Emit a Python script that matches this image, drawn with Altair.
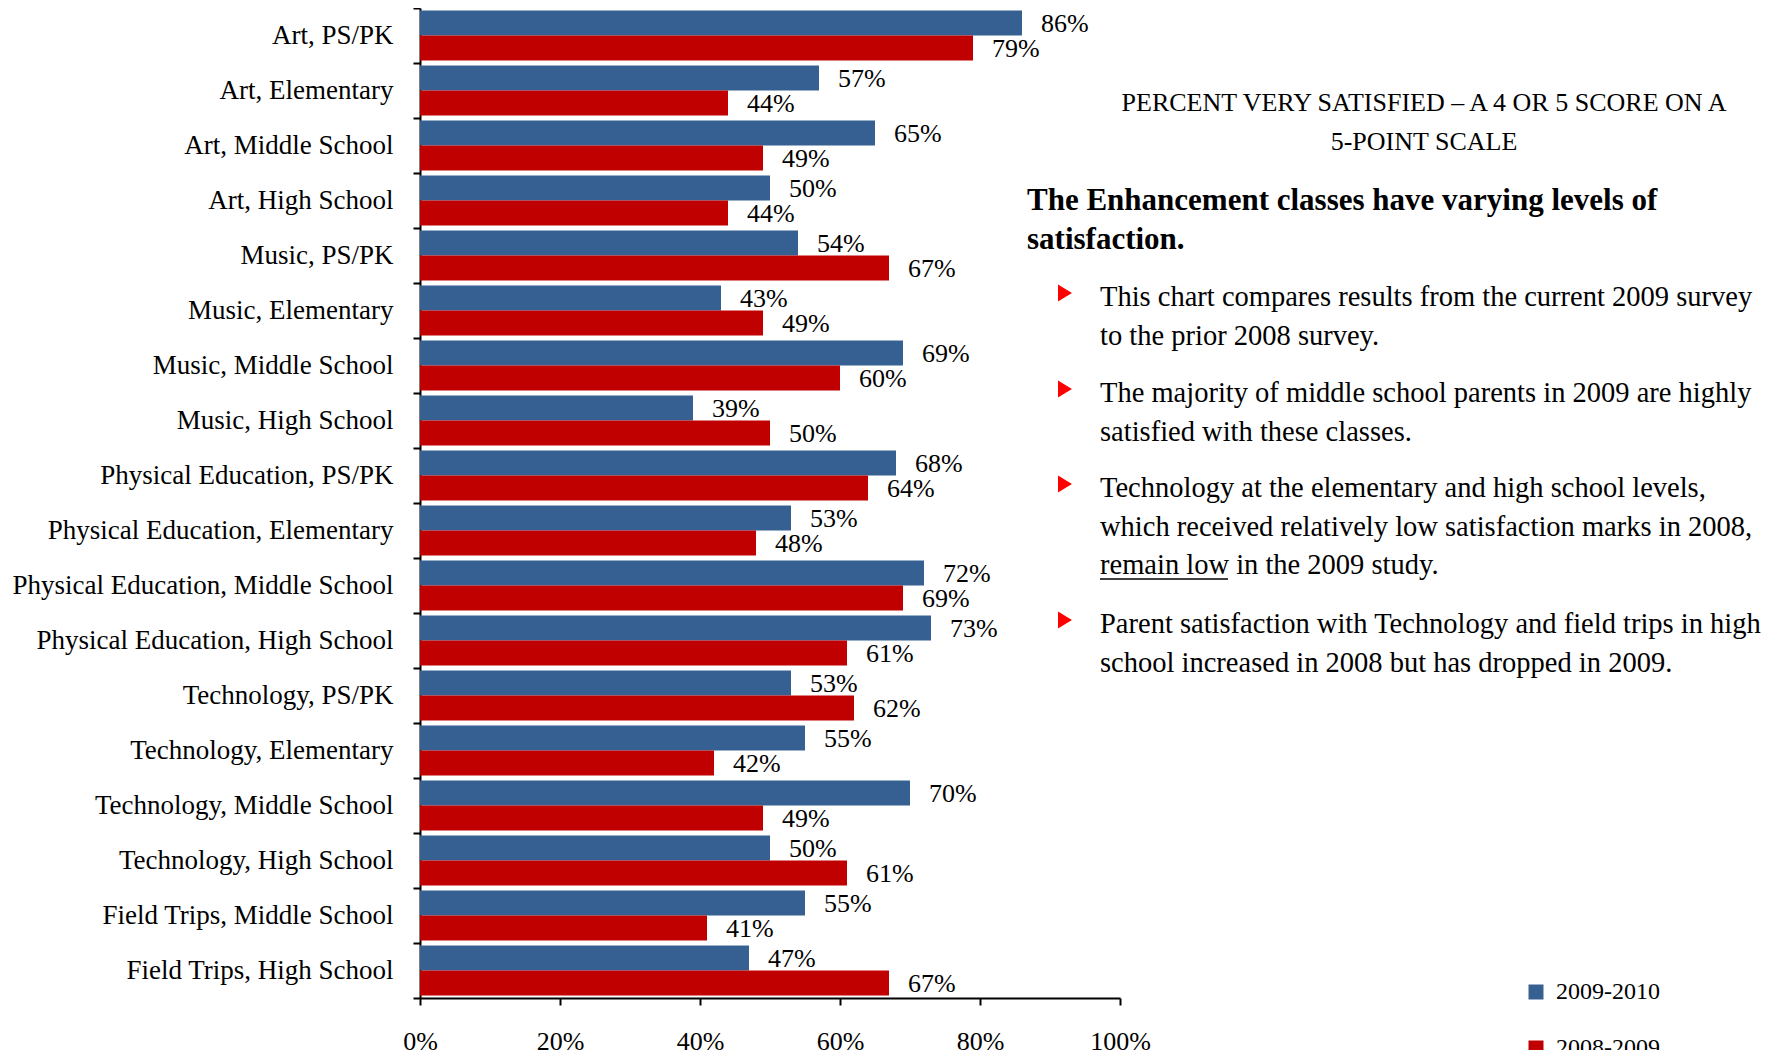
import altair as alt
import pandas as pd

categories = [
    "Art, PS/PK", "Art, Elementary", "Art, Middle School", "Art, High School",
    "Music, PS/PK", "Music, Elementary", "Music, Middle School", "Music, High School",
    "Physical Education, PS/PK", "Physical Education, Elementary",
    "Physical Education, Middle School", "Physical Education, High School",
    "Technology, PS/PK", "Technology, Elementary", "Technology, Middle School",
    "Technology, High School", "Field Trips, Middle School", "Field Trips, High School",
]
values_2009_2010 = [86, 57, 65, 50, 54, 43, 69, 39, 68, 53, 72, 73, 53, 55, 70, 50, 55, 47]
values_2008_2009 = [79, 44, 49, 44, 67, 49, 60, 50, 64, 48, 69, 61, 62, 42, 49, 61, 41, 67]
series = ["2009-2010", "2008-2009"]
colors = ["#376092", "#C00000"]
x_ticks = [0, 0.2, 0.4, 0.6, 0.8, 1.0]

title_lines = ["PERCENT VERY SATISFIED \u2013 A 4 OR 5 SCORE ON A", "5-POINT SCALE"]
heading_lines = ["The Enhancement classes have varying levels of", "satisfaction."]
bullets = [
    ["This chart compares results from the current 2009 survey", "to the prior 2008 survey."],
    ["The majority of middle school parents in 2009 are highly", "satisfied with these classes."],
    ["Technology at the elementary and high school levels,",
     "which received relatively low satisfaction marks in 2008,",
     "remain low in the 2009 study."],
    ["Parent satisfaction with Technology and field trips in high",
     "school increased in 2008 but has dropped in 2009."],
]

rows = []
for c, a, b in zip(categories, values_2009_2010, values_2008_2009):
    rows.append({"category": c, "series": series[0], "value": a / 100})
    rows.append({"category": c, "series": series[1], "value": b / 100})
df = pd.DataFrame(rows)

FONT = "Liberation Serif"
W, H = 700, 990

base = alt.Chart(df).encode(
    y=alt.Y(
        "category:N", sort=categories,
        scale=alt.Scale(paddingInner=0, paddingOuter=0),
        axis=alt.Axis(
            title=None, labelFont=FONT, labelFontSize=27, labelColor="black",
            labelPadding=20, tickSize=7, tickColor="black", tickWidth=2,
            domainColor="black", domainWidth=2, tickBand="extent", grid=False,
            labelLimit=600,
        ),
    ),
    yOffset=alt.YOffset("series:N", sort=series,
                        scale=alt.Scale(paddingInner=0, paddingOuter=0.1)),
    x=alt.X(
        "value:Q", scale=alt.Scale(domain=[0, 1], nice=False),
        axis=alt.Axis(
            title=None, values=x_ticks, format=".0%", labelFont=FONT,
            labelFontSize=26, labelColor="black", labelPadding=23, tickSize=7,
            tickColor="black", tickWidth=2, domainColor="black", domainWidth=2,
            grid=False, labelFlush=False,
        ),
    ),
)

bars = base.mark_bar().encode(
    color=alt.Color(
        "series:N",
        scale=alt.Scale(domain=series, range=colors),
        legend=alt.Legend(
            title=None, orient="none", legendX=1104, legendY=972,
            symbolType="square", symbolSize=225, symbolStrokeWidth=0,
            symbolOpacity=1, labelFont=FONT, labelFontSize=24,
            labelColor="black", labelOffset=8, rowPadding=32,
        ),
    )
)

labels = base.mark_text(
    align="left", baseline="middle", dx=19, dy=1, font=FONT, fontSize=26, color="black"
).encode(text=alt.Text("value:Q", format=".0%"))


def one():
    return alt.Chart(alt.Data(values=[{}]))


def text_layer(lines, x, y, align="left", size=28.5, weight="normal"):
    return one().mark_text(
        align=align, baseline="alphabetic", font=FONT, fontSize=size,
        fontWeight=weight, lineHeight=38.5, color="black",
    ).encode(x=alt.value(x), y=alt.value(y), text=alt.value(lines))


layers = [bars, labels]
layers.append(text_layer(title_lines, 1004, 103, align="center", size=26))
layers.append(text_layer(heading_lines, 607, 202, size=31, weight="bold"))

bullet_y = [298, 394, 489, 625]
tri_path = "M-0.82,-1L0.82,0L-0.82,1Z"
for lines, by in zip(bullets, bullet_y):
    layers.append(text_layer(lines, 680, by))
    layers.append(
        one().mark_point(shape=tri_path, filled=True, color="#FF0000", size=289,
                         opacity=1, strokeWidth=0)
        .encode(x=alt.value(645), y=alt.value(by - 13))
    )

# underline of "remain low"
layers.append(
    one().mark_rule(color="black", strokeWidth=1.5)
    .encode(x=alt.value(680), x2=alt.value(808), y=alt.value(571))
)

chart = alt.layer(*layers).properties(
    width=W, height=H,
    autosize=alt.AutoSizeParams(type="none"),
    padding={"left": 412, "top": 0, "right": 641, "bottom": 52},
).configure_view(stroke=None)

chart.save("out.html", embed_options={"renderer": "svg", "actions": False})
